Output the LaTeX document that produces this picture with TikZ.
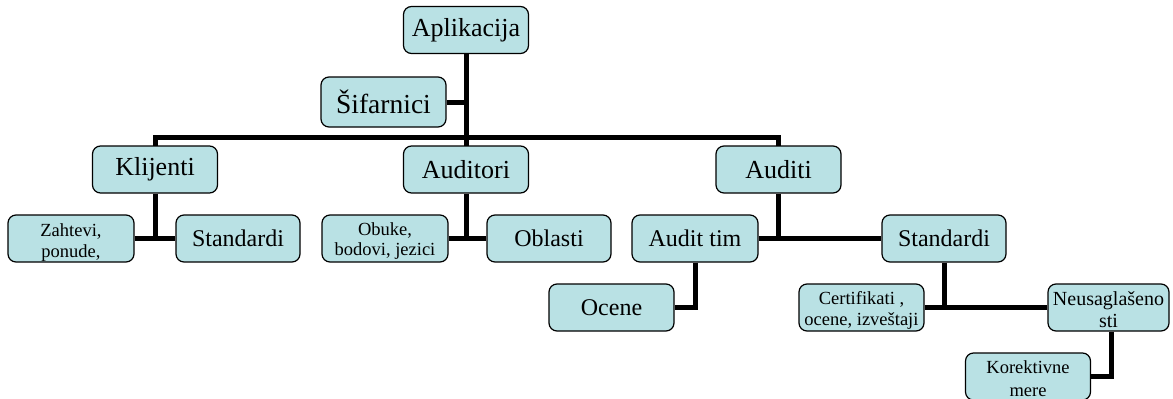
\documentclass[tikz,border=0pt]{standalone}
\usepackage{fontspec}
\setmainfont{Liberation Serif}
\usepackage{tikz}
\usetikzlibrary{calc}
\definecolor{boxfill}{RGB}{185,225,228}

\begin{document}
\begin{tikzpicture}[x=1pt, y=-1pt,
    box/.style={draw=black, line width=1.2pt, fill=boxfill, rounded corners=8pt,
        minimum width=125pt, minimum height=47pt, inner sep=1pt, align=center},
    bigbox/.style={box, font=\fontsize{26}{28}\selectfont},
    midbox/.style={box, font=\fontsize{24}{26}\selectfont},
    smallbox/.style={box, font=\fontsize{18.5}{20.5}\selectfont,
        text height=36pt, text depth=0pt},
    link/.style={line width=5pt, black}]
    \useasboundingbox (0,0) rectangle (1173,399);

    \coordinate (bus) at (466,137);

    \draw[link] (466,30) -- (bus);
    \draw[link] (155,169.5) |- (bus) -| (778.5,169.5);
    \draw[link] (bus) -- (466,169.5);

    \node[bigbox] (app) at (466,30) {Aplikacija};
    \node[bigbox, minimum height=50pt, font=\fontsize{27.5}{29}\selectfont] (sif) at (383.5,102) {Šifarnici};

    \node[bigbox] (kli) at (155,169.5) {Klijenti};
    \node[bigbox] (aur) at (466,169.5) {Auditori};
    \node[bigbox] (audi) at (778.5,169.5) {Auditi};

    \node[smallbox, minimum width=126pt, text height=37pt] (zah) at (71,238.5) {Zahtevi,\\ponude,};
    \node[midbox, minimum width=124pt] (std1) at (238,238.5) {Standardi};
    \node[smallbox, minimum width=126pt, text height=34pt] (obu) at (385,238.5) {Obuke,\\bodovi, jezici};
    \node[midbox, minimum width=124pt] (obl) at (549,238.5) {Oblasti};
    \node[midbox, minimum width=126pt] (tim) at (695,238.5) {Audit tim};
    \node[midbox, minimum width=124pt] (std2) at (944,238.5) {Standardi};

    \node[midbox] (oce) at (611.5,307.5) {Ocene};
    \node[smallbox, text height=35pt] (cer) at (861.5,307.5) {Certifikati ,\\ocene, izveštaji};
    \node[smallbox, minimum width=121pt, text height=39pt, font=\fontsize{20}{22}\selectfont] (neu) at (1108.5,307.5) {Neusaglašeno\\sti};
    \node[smallbox, text height=39pt, font=\fontsize{18.5}{23}\selectfont] (kor) at (1028,376.5) {Korektivne\\mere};

    \draw[link] (sif.east) -- (sif.east -| app.south);

    \draw[link] (kli.south) -- (kli.south |- zah.east);
    \draw[link] (zah.east) -- (std1.west);

    \draw[link] (aur.south) -- (aur.south |- obu.east);
    \draw[link] (obu.east) -- (obl.west);

    \draw[link] (audi.south) -- (audi.south |- tim.east);
    \draw[link] (tim.east) -- (std2.west);

    \draw[link] (tim.south) |- (oce.east);

    \draw[link] (std2.south) -- (std2.south |- cer.east);
    \draw[link] (cer.east) -- (neu.west);

    \draw[link] ([xshift=3pt]neu.south) |- (kor.east);
\end{tikzpicture}
\end{document}
